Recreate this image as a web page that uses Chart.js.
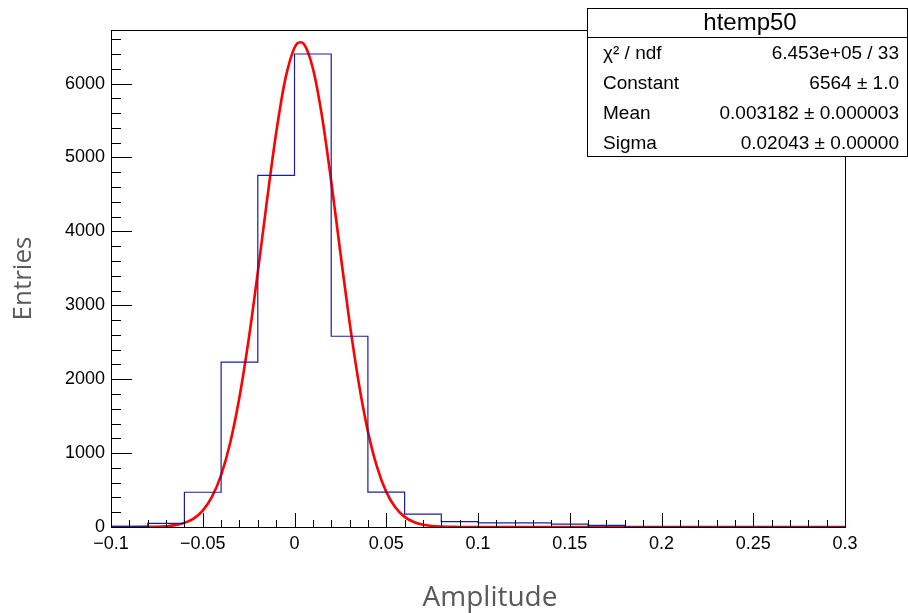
<!DOCTYPE html>
<html>
<head>
<meta charset="utf-8">
<script src="https://cdn.jsdelivr.net/npm/chart.js@4.4.1/dist/chart.umd.min.js"></script>
<style>
    body { margin: 0; background: #ffffff; }
    canvas { display: block; }
</style>
</head>
<body>
<canvas id="histChart" width="908" height="613"></canvas>
<script>
// bin edges and bin contents of htemp50
const binEdges = [-0.1, -0.08, -0.06, -0.04, -0.02, 0, 0.02, 0.04, 0.06, 0.08, 0.1,
                  0.12, 0.14, 0.16, 0.18, 0.2, 0.22, 0.24, 0.26, 0.28, 0.3];
const binCounts = [8, 50, 470, 2230, 4757, 6400, 2581, 473, 175, 72,
                   55, 55, 40, 22, 0, 0, 0, 0, 0, 0];

// gaus fit curve
const fitX = [-0.1, -0.09, -0.08, -0.07, -0.065, -0.06, -0.055, -0.05, -0.045, -0.04,
              -0.035, -0.03, -0.025, -0.02, -0.015, -0.01, -0.005, 0, 0.003, 0.005,
              0.01, 0.015, 0.02, 0.025, 0.03, 0.035, 0.04, 0.045, 0.05, 0.055,
              0.06, 0.065, 0.07, 0.08, 0.09, 0.1, 0.2, 0.3];
const fitY = [0, 0, 2, 11, 25, 56, 114, 222, 407, 703,
              1144, 1755, 2533, 3447, 4417, 5331, 6060, 6485, 6560, 6538,
              6208, 5555, 4679, 3711, 2772, 1952, 1294, 809, 475, 263,
              137, 67, 31, 6, 1, 0, 0, 0];

const xTicks = [-0.1, -0.05, 0, 0.05, 0.1, 0.15, 0.2, 0.25, 0.3];
const xTickLabels = ['\u22120.1', '\u22120.05', '0', '0.05', '0.1', '0.15', '0.2', '0.25', '0.3'];
const yTicks = [0, 1000, 2000, 3000, 4000, 5000, 6000];

const xTitle = 'Amplitude';
const yTitle = 'Entries';

const statsTitle = 'htemp50';
const statsNames = ['\u03c7\u00b2 / ndf', 'Constant', 'Mean', 'Sigma'];
const statsValues = ['6.453e+05 / 33', '6564 \u00b1 1.0', '0.003182 \u00b1 0.000003', '0.02043 \u00b1 0.00000'];

document.addEventListener('DOMContentLoaded', () => {
    // last edge repeats the last bin so the step closes at 0.3
    const histPoints = binEdges.map((x, i) => ({ x: x, y: i < binCounts.length ? binCounts[i] : binCounts[binCounts.length - 1] }));
    const fitPoints = fitX.map((x, i) => ({ x: x, y: fitY[i] }));

    // ROOT style frame and inward ticks
    const frameTicks = {
        id: 'frameTicks',
        afterDatasetsDraw(chart) {
            const { ctx, chartArea: a, scales: { x, y } } = chart;
            ctx.save();
            ctx.strokeStyle = '#000000';
            ctx.lineWidth = 1;
            ctx.beginPath();
            for (let v = -0.1; v <= 0.3001; v += 0.01) {
                const px = Math.round(x.getPixelForValue(v)) + 0.5;
                const major = Math.abs(v / 0.05 - Math.round(v / 0.05)) < 1e-6;
                ctx.moveTo(px, a.bottom);
                ctx.lineTo(px, a.bottom - (major ? 14 : 7));
            }
            for (let v = 0; v <= 6600; v += 200) {
                const py = Math.round(y.getPixelForValue(v)) + 0.5;
                const major = v % 1000 === 0;
                ctx.moveTo(a.left, py);
                ctx.lineTo(a.left + (major ? 21 : 10), py);
            }
            ctx.stroke();
            ctx.strokeRect(Math.round(a.left) + 0.5, Math.round(a.top) + 0.5,
                           Math.round(a.right - a.left), Math.round(a.bottom - a.top));

            // x title sits a bit right of the frame centre, as in the original
            ctx.fillStyle = '#595959';
            ctx.font = '28px "Open Sans"';
            ctx.textAlign = 'center';
            ctx.textBaseline = 'alphabetic';
            ctx.fillText(xTitle, 490, 606);
            ctx.restore();
        }
    };

    const statsBox = {
        id: 'statsBox',
        afterDraw(chart) {
            const ctx = chart.ctx;
            const bx = 587.5, by = 8.5, bw = 320, bh = 148;
            ctx.save();
            ctx.fillStyle = '#ffffff';
            ctx.fillRect(bx, by, bw, bh);
            ctx.strokeStyle = '#000000';
            ctx.lineWidth = 1;
            ctx.strokeRect(bx, by, bw, bh);
            ctx.beginPath();
            ctx.moveTo(bx, 37.5);
            ctx.lineTo(bx + bw, 37.5);
            ctx.stroke();
            ctx.fillStyle = '#000000';
            ctx.textBaseline = 'middle';
            ctx.textAlign = 'center';
            ctx.font = '24px "Liberation Sans"';
            ctx.fillText(statsTitle, 750, 23);
            ctx.font = '19px "Liberation Sans"';
            statsNames.forEach((name, i) => {
                const ty = 54 + i * 30;
                ctx.textAlign = 'left';
                ctx.fillText(name, 603, ty);
                ctx.textAlign = 'right';
                ctx.fillText(statsValues[i], 899, ty);
            });
            ctx.restore();
        }
    };

    new Chart(document.getElementById('histChart'), {
        type: 'line',
        data: {
            datasets: [
                {
                    label: 'htemp50',
                    data: histPoints,
                    stepped: 'before',
                    borderColor: '#1c1ca3',
                    borderWidth: 1.2,
                    pointRadius: 0,
                    fill: false
                },
                {
                    label: 'gaus',
                    data: fitPoints,
                    borderColor: '#ff0000',
                    borderWidth: 2.6,
                    pointRadius: 0,
                    cubicInterpolationMode: 'monotone',
                    fill: false
                }
            ]
        },
        options: {
            responsive: false,
            animation: false,
            devicePixelRatio: 1,
            layout: { padding: { left: 0, right: 63, top: 30, bottom: 0 } },
            plugins: {
                legend: { display: false },
                tooltip: { enabled: false }
            },
            scales: {
                x: {
                    type: 'linear',
                    min: -0.1,
                    max: 0.3,
                    afterBuildTicks: (scale) => { scale.ticks = xTicks.map((v) => ({ value: v })); },
                    afterFit: (scale) => { scale.height = 86; },
                    grid: { display: false, drawTicks: false },
                    border: { display: false },
                    ticks: {
                        padding: 6,
                        color: '#000000',
                        font: { family: 'Liberation Sans', size: 18 },
                        maxRotation: 0,
                        callback: (value, index) => xTickLabels[index]
                    },
                    title: { display: false }
                },
                y: {
                    type: 'linear',
                    min: 0,
                    max: 6725,
                    afterBuildTicks: (scale) => { scale.ticks = yTicks.map((v) => ({ value: v })); },
                    afterFit: (scale) => { scale.width = 111; },
                    grid: { display: false, drawTicks: false },
                    border: { display: false },
                    ticks: {
                        padding: 6,
                        color: '#000000',
                        font: { family: 'Liberation Sans', size: 18 },
                        callback: (value) => String(value)
                    },
                    title: {
                        display: true,
                        text: yTitle,
                        color: '#595959',
                        font: { family: 'Open Sans', size: 26 },
                        padding: { top: 8, bottom: 0 }
                    }
                }
            }
        },
        plugins: [frameTicks, statsBox]
    });
});
</script>
</body>
</html>
